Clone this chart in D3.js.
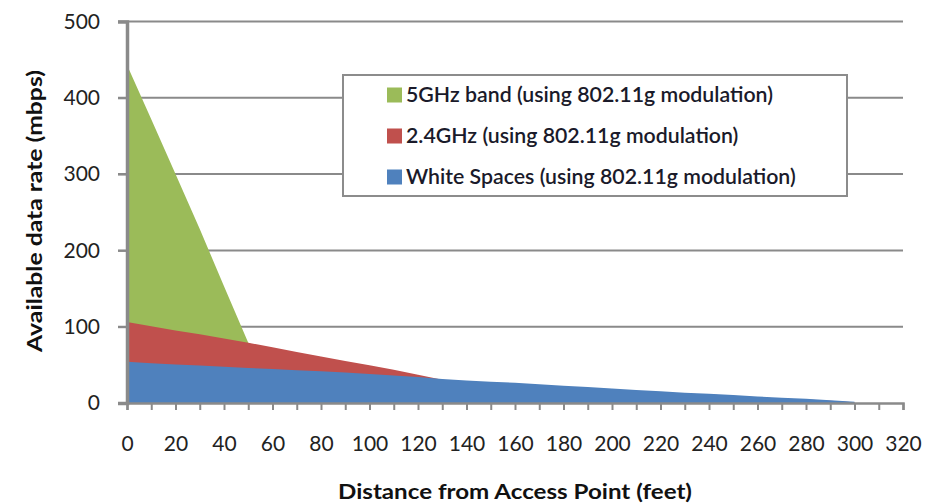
<!DOCTYPE html>
<html>
<head>
<meta charset="utf-8">
<script src="https://cdn.jsdelivr.net/npm/d3@7"></script>
<style>
  html, body { margin: 0; padding: 0; background: #fff; }
  svg { display: block; }
  text { font-family: Lato, "Open Sans", sans-serif; }
</style>
</head>
<body>
<svg id="chart" width="937" height="504"></svg>
<script>
// ---- data ----
const distances = [0,10,20,30,40,50,60,70,80,90,100,110,120,130,140,150,160,170,180,190,200,210,220,230,240,250,260,270,280,290,300];
const band5GHz   = [443,372,300,228,153,79,65,55,47,40,34,29,25,22,19,17,15,13,11,10,9,8,7,6,5,4,3,2,1,0.5,0];
const band24GHz  = [106,100.5,95,90,84.5,79,73,67,61,55,49.5,43.5,37,30.5,28,26,24,22,20,18.5,17,15.5,14,12.5,11,9.5,7.5,6,4.5,3,1];
const whiteSpaces= [54,52,50.5,49,47.5,46,44.5,43,41.5,40,38,36,34,31.5,29.5,28,26.5,24.5,22.5,21,19,17,15.5,13.5,12,10.5,8.5,7,5.5,3.5,1.5];
const seriesNames = ["5GHz band (using 802.11g modulation)", "2.4GHz (using 802.11g modulation)", "White Spaces (using 802.11g modulation)"];
const seriesColors = ["#9BBB59", "#C0504D", "#4F81BD"];
const xTicks = [0,20,40,60,80,100,120,140,160,180,200,220,240,260,280,300,320];
const xMinorTicks = d3.range(0, 321, 10);
const yTicks = [0,100,200,300,400,500];
const xTitle = "Distance from Access Point (feet)";
const yTitle = "Available data rate (mbps)";

// ---- layout ----
const svg = d3.select("#chart");
const padL = 127, padR = 903, padT = 21.5, padB = 403;
const x = d3.scaleLinear().domain([0, 320]).range([padL, padR]);
const y = d3.scaleLinear().domain([0, 500]).range([padB, padT]);
const gridColor = "#8a8a8a";

// gridlines
svg.append("g").selectAll("line").data(yTicks.filter(d => d > 0)).join("line")
  .attr("x1", padL - 9).attr("x2", padR)
  .attr("y1", d => y(d)).attr("y2", d => y(d))
  .attr("stroke", gridColor).attr("stroke-width", 2);

// areas
const allSeries = [band5GHz, band24GHz, whiteSpaces];
const area = d3.area()
  .x((d, i) => x(distances[i]))
  .y0(y(0))
  .y1(d => y(d));
svg.append("g").selectAll("path").data(allSeries).join("path")
  .attr("d", d => area(d))
  .attr("fill", (d, i) => seriesColors[i]);

// y axis
const yAxis = d3.axisLeft(y).tickValues(yTicks).tickSize(9).tickFormat(d3.format("d")).tickPadding(18);
const gy = svg.append("g").attr("transform", `translate(${padL},0)`).call(yAxis);
gy.select(".domain").attr("stroke", gridColor).attr("stroke-width", 3.5);
gy.selectAll(".tick line").attr("stroke", gridColor).attr("stroke-width", 2);
gy.selectAll(".tick text").attr("font-size", 21).attr("fill", "#222").attr("font-family", "Lato, sans-serif");

// x axis
const xAxis = d3.axisBottom(x).tickValues(xMinorTicks).tickSize(7).tickPadding(26)
  .tickFormat(d => xTicks.includes(d) ? d : "");
const gx = svg.append("g").attr("transform", `translate(0,${padB})`).call(xAxis);
gx.select(".domain").attr("stroke", gridColor).attr("stroke-width", 2.5);
gx.selectAll(".tick line").attr("stroke", gridColor).attr("stroke-width", 2);
gx.selectAll(".tick text").attr("font-size", 21).attr("fill", "#222").attr("font-family", "Lato, sans-serif");

// axis titles
svg.append("text").attr("x", 515).attr("y", 499).attr("text-anchor", "middle")
  .attr("font-size", 20).attr("font-weight", "bold").attr("fill", "#111")
  .attr("textLength", 354).attr("lengthAdjust", "spacingAndGlyphs").text(xTitle);
svg.append("text").attr("transform", "translate(42,211) rotate(-90)").attr("text-anchor", "middle")
  .attr("font-size", 20.5).attr("font-weight", "bold").attr("fill", "#111")
  .attr("textLength", 282).attr("lengthAdjust", "spacingAndGlyphs").text(yTitle);

// legend
const lg = svg.append("g");
lg.append("rect").attr("x", 343).attr("y", 75).attr("width", 504).attr("height", 121)
  .attr("fill", "#fff").attr("stroke", "#8c8c8c").attr("stroke-width", 2);
const rows = lg.selectAll("g.row").data(seriesNames).join("g").attr("class", "row")
  .attr("transform", (d, i) => `translate(387,${95 + i * 41})`);
rows.append("rect").attr("x", 0).attr("y", -7.5).attr("width", 15).attr("height", 15)
  .attr("fill", (d, i) => seriesColors[i]);
rows.append("text").attr("x", 19).attr("y", 0).attr("dy", "0.35em")
  .attr("font-size", 21.3).attr("fill", "#1a1a2a").attr("font-weight", 600).text(d => d);
</script>
</body>
</html>
